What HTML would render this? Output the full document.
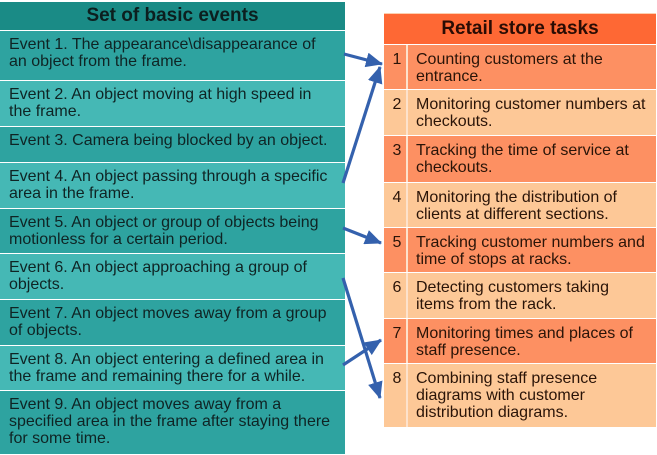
<!DOCTYPE html>
<html><head><meta charset="utf-8">
<style>
html,body{margin:0;padding:0;background:#fff;}
body{width:657px;height:455px;position:relative;overflow:hidden;font-family:"Liberation Sans",sans-serif;}
.l{position:absolute;left:0;width:345px;box-sizing:border-box;padding:5px 0 0 9px;font-size:16px;line-height:17px;color:#0f2424;white-space:nowrap;}
.d{background:#2ea3a0;}
.b{background:#45b8b5;}
.h{position:absolute;font-weight:bold;font-size:19px;text-align:center;}
.r{position:absolute;left:384px;width:272px;font-size:16px;line-height:17px;color:#2a1408;white-space:nowrap;}
.r .n{position:absolute;left:2px;top:0;bottom:0;width:22px;text-align:center;padding-top:6px;box-sizing:border-box;}
.r .t{position:absolute;left:24px;top:0;padding-top:6px;padding-left:8px;}
.r .sep{position:absolute;left:22px;top:0;bottom:0;width:2px;background:#fde2cc;}
.o{background:#fd9062;}
.p{background:#fdc897;}
</style></head><body>
<div class="h" style="left:0;top:2px;width:345px;height:28px;line-height:28px;background:#1a8b86;color:#0c1f1f;">Set of basic events</div>
<div class="l d" style="top:31px;height:49px;">Event 1. The appearance\disappearance of<br>an object from the frame.</div>
<div class="l b" style="top:81px;height:45px;">Event 2. An object moving at high speed in<br>the frame.</div>
<div class="l d" style="top:127px;height:35px;">Event 3. Camera being blocked by an object.</div>
<div class="l b" style="top:163px;height:45px;">Event 4. An object passing through a specific<br>area in the frame.</div>
<div class="l d" style="top:209px;height:44px;">Event 5. An object or group of objects being<br>motionless for a certain period.</div>
<div class="l b" style="top:254px;height:45px;">Event 6. An object approaching a group of<br>objects.</div>
<div class="l d" style="top:300px;height:45px;">Event 7. An object moves away from a group<br>of objects.</div>
<div class="l b" style="top:346px;height:44px;">Event 8. An object entering a defined area in<br>the frame and remaining there for a while.</div>
<div class="l d" style="top:391px;height:63px;">Event 9. An object moves away from a<br>specified area in the frame after staying there<br>for some time.</div>

<div style="position:absolute;left:384px;top:13px;width:272px;height:1px;background:#fdd0b0;"></div>
<div class="h" style="left:384px;top:14px;width:272px;height:30px;line-height:30px;background:#fe6834;color:#2a0c04;">Retail store tasks</div>
<div class="r o" style="top:45px;height:44px;"><div class="sep"></div><div class="n">1</div><div class="t">Counting customers at the<br>entrance.</div></div>
<div class="r p" style="top:90px;height:45px;"><div class="sep"></div><div class="n">2</div><div class="t">Monitoring customer numbers at<br>checkouts.</div></div>
<div class="r o" style="top:136px;height:46px;"><div class="sep"></div><div class="n">3</div><div class="t">Tracking the time of service at<br>checkouts.</div></div>
<div class="r p" style="top:183px;height:44px;"><div class="sep"></div><div class="n">4</div><div class="t">Monitoring the distribution of<br>clients at different sections.</div></div>
<div class="r o" style="top:228px;height:44px;"><div class="sep"></div><div class="n">5</div><div class="t">Tracking customer numbers and<br>time of stops at racks.</div></div>
<div class="r p" style="top:273px;height:45px;"><div class="sep"></div><div class="n">6</div><div class="t">Detecting customers taking<br>items from the rack.</div></div>
<div class="r o" style="top:319px;height:44px;"><div class="sep"></div><div class="n">7</div><div class="t">Monitoring times and places of<br>staff presence.</div></div>
<div class="r p" style="top:364px;height:63px;"><div class="sep"></div><div class="n">8</div><div class="t">Combining staff presence<br>diagrams with customer<br>distribution diagrams.</div></div>

<svg width="657" height="455" style="position:absolute;left:0;top:0;" xmlns="http://www.w3.org/2000/svg">
<defs>
<marker id="a" markerWidth="17" markerHeight="15" refX="16" refY="7.5" orient="auto" markerUnits="userSpaceOnUse">
<path d="M0,0 L17,7.5 L0,15 Z" fill="#3461ad"/>
</marker>
</defs>
<g stroke="#3461ad" stroke-width="3.2" fill="none" marker-end="url(#a)">
<line x1="344" y1="54" x2="382" y2="64"/>
<line x1="343" y1="183" x2="380" y2="67"/>
<line x1="343" y1="228" x2="381" y2="243"/>
<line x1="343" y1="278" x2="380" y2="398"/>
<line x1="343" y1="365" x2="381" y2="340"/>
</g>
</svg>
</body></html>
